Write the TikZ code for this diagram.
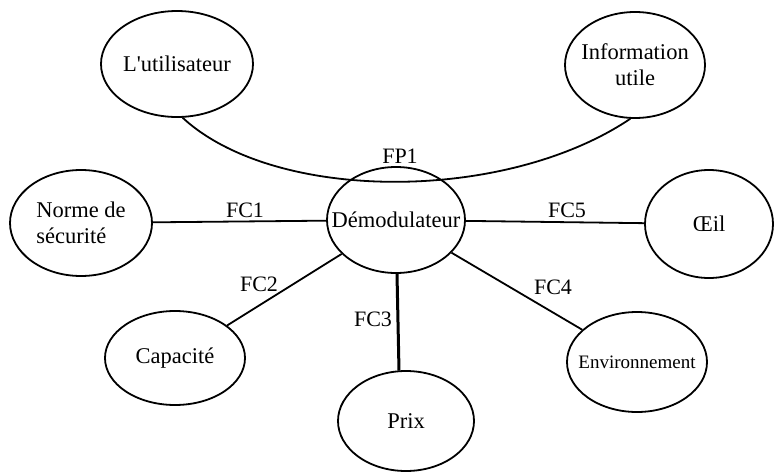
\documentclass[tikz,border=0pt]{standalone}
\usepackage{fontspec}
\setmainfont{Liberation Serif}[Ligatures=TeXOff]
\usetikzlibrary{shapes.geometric}
\begin{document}
\begin{tikzpicture}[x=1pt,y=-1pt,
  bubble/.style={ellipse,draw=black,line width=1.8pt,inner xsep=-40pt,inner ysep=-30pt,
    font=\fontsize{22.5}{26}\selectfont},
  link/.style={draw=black,line width=1.8pt},
  flabel/.style={inner sep=0pt,font=\fontsize{22}{26}\selectfont}]
  \fill[white] (0,0) rectangle (774,474);
  \useasboundingbox (0,0) rectangle (774,474);

  % peripheral elements and the central product
  \node[bubble,minimum width=152pt,minimum height=106pt] (user) at (177,64) {L'utilisateur};
  \node[bubble,minimum width=140pt,minimum height=106pt,align=center] (info) at (635,65) {Information\\utile};
  \node[bubble,minimum width=142pt,minimum height=106pt,align=left] (norme) at (81,223) {Norme de\\sécurité};
  \node[bubble,minimum width=138pt,minimum height=106pt] (demod) at (396,220) {Démodulateur};
  \node[bubble,minimum width=128pt,minimum height=108pt] (oeil) at (709,224) {Œil};
  \node[bubble,minimum width=140pt,minimum height=94pt] (capa) at (175,358) {Capacité};
  \node[bubble,minimum width=136pt,minimum height=100pt] (prix) at (406,421) {Prix};
  \node[bubble,minimum width=140pt,minimum height=100pt,font=\fontsize{19}{22}\selectfont] (env) at (637,362) {Environnement};

  % principal function: user -> useful information through the product
  \draw[link] (user.-84) .. controls (275,203) and (505,203) .. (info.-95);

  % constraint functions
  \draw[link] (demod) -- (norme);
  \draw[link] (demod) -- (oeil);
  \draw[link] (demod) -- (capa);
  \draw[link,line width=3pt] ([xshift=1pt]demod.south) -- ([xshift=-7pt,yshift=-0.5pt]prix.north);
  \draw[link] (demod) -- (env);

  % function labels
  \node[flabel] (lfp1) at (400,156) {FP1};
  \node[flabel] (lfc1) at (245,210) {FC1};
  \node[flabel] (lfc5) at (567,210) {FC5};
  \node[flabel] (lfc2) at (259,284) {FC2};
  \node[flabel] (lfc3) at (373,319) {FC3};
  \node[flabel] (lfc4) at (553,287) {FC4};
\end{tikzpicture}
\end{document}
